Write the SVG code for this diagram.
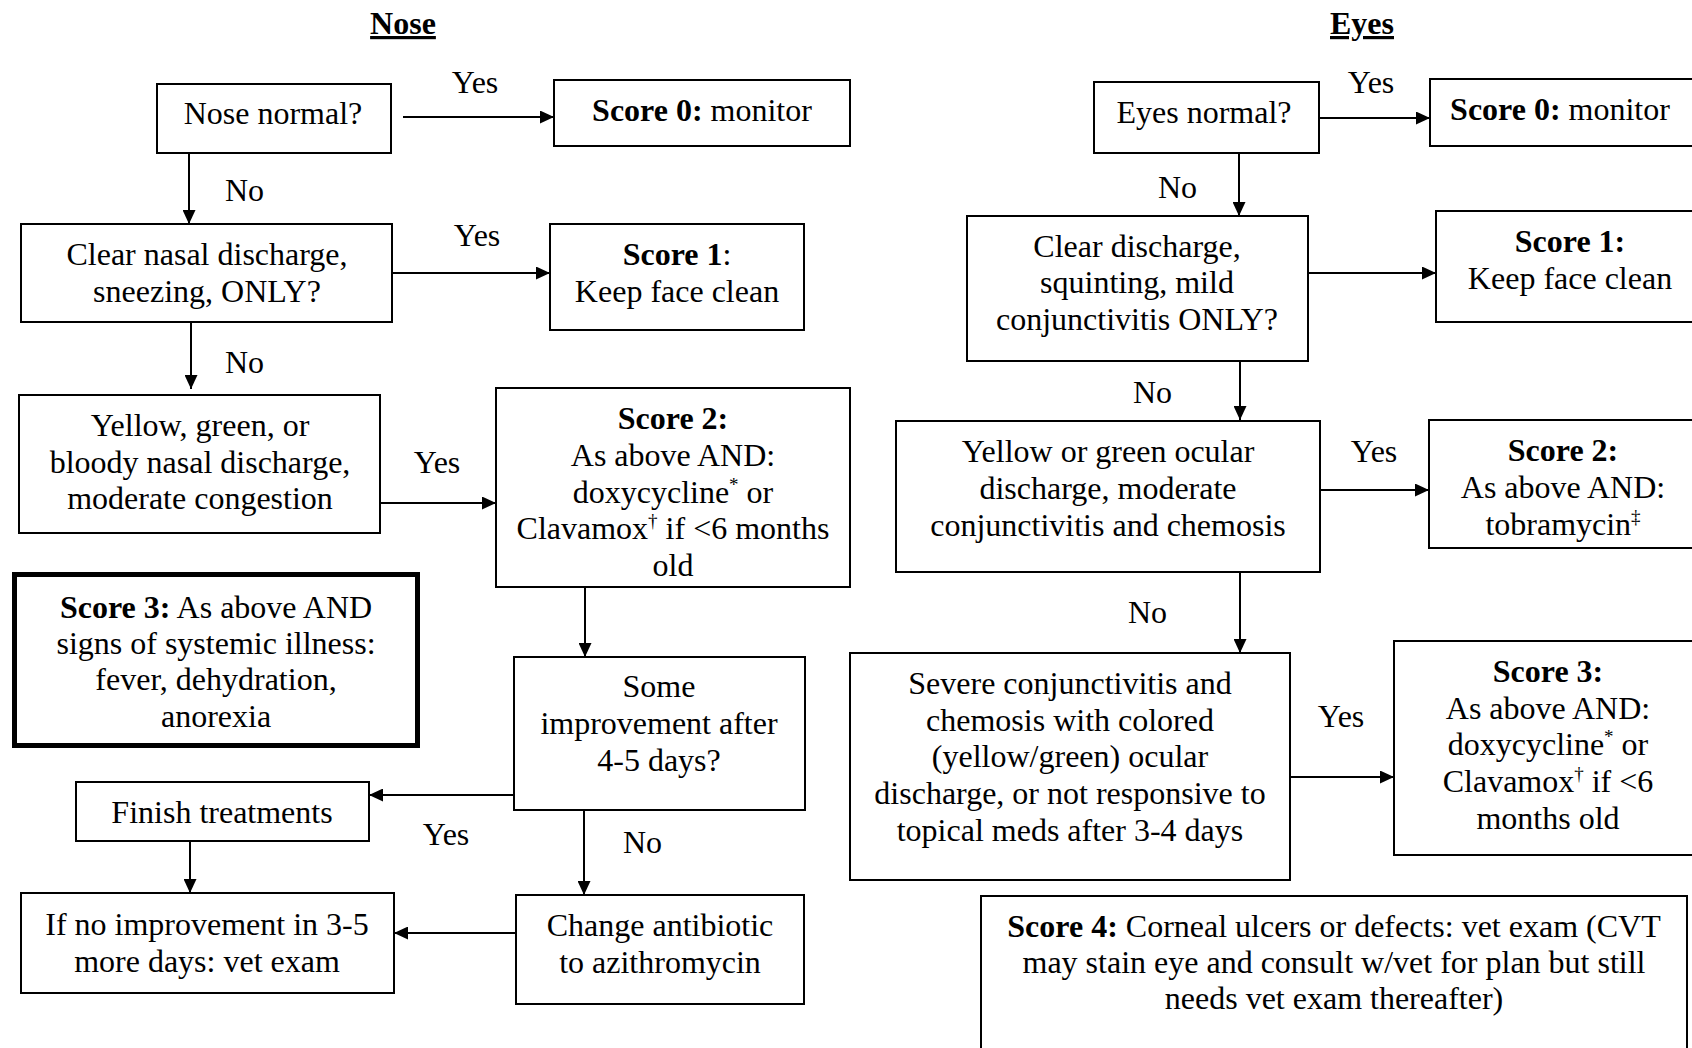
<svg xmlns="http://www.w3.org/2000/svg" width="1692" height="1048" viewBox="0 0 1692 1048">
<style>
.box{fill:#fff;stroke:#000;stroke-width:2}
.thick{fill:#fff;stroke:#000;stroke-width:5}
.t{font-family:"Liberation Serif","Times New Roman",serif;font-size:32px;fill:#000;text-anchor:middle}
.l{font-family:"Liberation Serif","Times New Roman",serif;font-size:32px;fill:#000}
.b{font-weight:bold}
.title{font-family:"Liberation Serif","Times New Roman",serif;font-size:32px;font-weight:bold;text-anchor:middle;text-decoration:underline}
.c{fill:none;stroke:#000;stroke-width:2;marker-end:url(#ah)}
.sup{font-size:19px}
</style>
<defs>
<marker id="ah" markerUnits="userSpaceOnUse" markerWidth="15" markerHeight="13" refX="14" refY="6.5" orient="auto">
<path d="M0,0 L14,6.5 L0,13 z" fill="#000"/>
</marker>
</defs>
<rect width="1692" height="1048" fill="#fff"/>
<text class="title" x="403" y="34">Nose</text>
<text class="title" x="1362" y="34">Eyes</text>

<g id="connectors">
<path class="c" d="M403,117 H554"/>
<path class="c" d="M189,148 V224"/>
<path class="c" d="M392,273 H550"/>
<path class="c" d="M191,322 V389"/>
<path class="c" d="M380,503 H496"/>
<path class="c" d="M585,587 V657"/>
<path class="c" d="M514,795 H369"/>
<path class="c" d="M190,841 V893"/>
<path class="c" d="M584,810 V895"/>
<path class="c" d="M516,933 H394"/>
<path class="c" d="M1319,118 H1430"/>
<path class="c" d="M1239,153 V216"/>
<path class="c" d="M1308,273 H1436"/>
<path class="c" d="M1240,361 V420"/>
<path class="c" d="M1320,490 H1429"/>
<path class="c" d="M1240,572 V653"/>
<path class="c" d="M1290,777 H1394"/>
<text class="t" x="475" y="93">Yes</text>
<text class="l" x="225" y="201">No</text>
<text class="t" x="477" y="246">Yes</text>
<text class="l" x="225" y="373">No</text>
<text class="t" x="437" y="473">Yes</text>
<text class="t" x="446" y="845">Yes</text>
<text class="l" x="623" y="853">No</text>
<text class="t" x="1371" y="93">Yes</text>
<text class="l" x="1158" y="198">No</text>
<text class="l" x="1133" y="403">No</text>
<text class="t" x="1374" y="462">Yes</text>
<text class="l" x="1128" y="623">No</text>
<text class="t" x="1341" y="727">Yes</text>
</g>

<g id="nose-normal">
<rect class="box" x="157" y="84" width="234" height="69"/>
<text class="t" x="273" y="124">Nose normal?</text>
</g>
<g id="nose-score0">
<rect class="box" x="554" y="80" width="296" height="66"/>
<text class="t" x="702" y="121"><tspan class="b">Score 0:</tspan> monitor</text>
</g>
<g id="nose-clear">
<rect class="box" x="21" y="224" width="371" height="98"/>
<text class="t" x="207" y="265">Clear nasal discharge,</text>
<text class="t" x="207" y="302">sneezing, ONLY?</text>
</g>
<g id="nose-score1">
<rect class="box" x="550" y="224" width="254" height="106"/>
<text class="t" x="677" y="265"><tspan class="b">Score 1</tspan>:</text>
<text class="t" x="677" y="302">Keep face clean</text>
</g>
<g id="nose-yellow">
<rect class="box" x="19" y="395" width="361" height="138"/>
<text class="t" x="200" y="436">Yellow, green, or</text>
<text class="t" x="200" y="473">bloody nasal discharge,</text>
<text class="t" x="200" y="509">moderate congestion</text>
</g>
<g id="nose-score2">
<rect class="box" x="496" y="388" width="354" height="199"/>
<text class="t b" x="673" y="429">Score 2:</text>
<text class="t" x="673" y="466">As above AND:</text>
<text class="t" x="673" y="503">doxycycline<tspan class="sup" dy="-12">*</tspan><tspan dy="12"> or</tspan></text>
<text class="t" x="673" y="539">Clavamox<tspan class="sup" dy="-12">†</tspan><tspan dy="12"> if &lt;6 months</tspan></text>
<text class="t" x="673" y="576">old</text>
</g>
<g id="nose-score3">
<rect class="thick" x="14.5" y="574.5" width="403" height="171"/>
<text class="t" x="216" y="618"><tspan class="b">Score 3:</tspan> As above AND</text>
<text class="t" x="216" y="654">signs of systemic illness:</text>
<text class="t" x="216" y="690">fever, dehydration,</text>
<text class="t" x="216" y="727">anorexia</text>
</g>
<g id="nose-improve">
<rect class="box" x="514" y="657" width="291" height="153"/>
<text class="t" x="659" y="697">Some</text>
<text class="t" x="659" y="734">improvement after</text>
<text class="t" x="659" y="771">4-5 days?</text>
</g>
<g id="nose-finish">
<rect class="box" x="76" y="782" width="293" height="59"/>
<text class="t" x="222" y="823">Finish treatments</text>
</g>
<g id="nose-vet">
<rect class="box" x="21" y="893" width="373" height="100"/>
<text class="t" x="207" y="935">If no improvement in 3-5</text>
<text class="t" x="207" y="972">more days: vet exam</text>
</g>
<g id="nose-change">
<rect class="box" x="516" y="895" width="288" height="109"/>
<text class="t" x="660" y="936">Change antibiotic</text>
<text class="t" x="660" y="973">to azithromycin</text>
</g>

<g id="eyes-normal">
<rect class="box" x="1094" y="82" width="225" height="71"/>
<text class="t" x="1204" y="123">Eyes normal?</text>
</g>
<g id="eyes-score0">
<rect class="box" x="1430" y="79" width="280" height="67"/>
<text class="t" x="1560" y="120"><tspan class="b">Score 0:</tspan> monitor</text>
</g>
<g id="eyes-clear">
<rect class="box" x="967" y="216" width="341" height="145"/>
<text class="t" x="1137" y="257">Clear discharge,</text>
<text class="t" x="1137" y="293">squinting, mild</text>
<text class="t" x="1137" y="330">conjunctivitis ONLY?</text>
</g>
<g id="eyes-score1">
<rect class="box" x="1436" y="211" width="280" height="111"/>
<text class="t b" x="1570" y="252">Score 1:</text>
<text class="t" x="1570" y="289">Keep face clean</text>
</g>
<g id="eyes-yellow">
<rect class="box" x="896" y="421" width="424" height="151"/>
<text class="t" x="1108" y="462">Yellow or green ocular</text>
<text class="t" x="1108" y="499">discharge, moderate</text>
<text class="t" x="1108" y="536">conjunctivitis and chemosis</text>
</g>
<g id="eyes-score2">
<rect class="box" x="1429" y="420" width="290" height="128"/>
<text class="t b" x="1563" y="461">Score 2:</text>
<text class="t" x="1563" y="498">As above AND:</text>
<text class="t" x="1563" y="535">tobramycin<tspan class="sup" dy="-12">‡</tspan></text>
</g>
<g id="eyes-severe">
<rect class="box" x="850" y="653" width="440" height="227"/>
<text class="t" x="1070" y="694">Severe conjunctivitis and</text>
<text class="t" x="1070" y="731">chemosis with colored</text>
<text class="t" x="1070" y="767">(yellow/green) ocular</text>
<text class="t" x="1070" y="804">discharge, or not responsive to</text>
<text class="t" x="1070" y="841">topical meds after 3-4 days</text>
</g>
<g id="eyes-score3">
<rect class="box" x="1394" y="641" width="320" height="214"/>
<text class="t b" x="1548" y="682">Score 3:</text>
<text class="t" x="1548" y="719">As above AND:</text>
<text class="t" x="1548" y="755">doxycycline<tspan class="sup" dy="-12">*</tspan><tspan dy="12"> or</tspan></text>
<text class="t" x="1548" y="792">Clavamox<tspan class="sup" dy="-12">†</tspan><tspan dy="12"> if &lt;6</tspan></text>
<text class="t" x="1548" y="829">months old</text>
</g>
<g id="eyes-score4">
<rect class="box" x="981" y="896" width="706" height="170"/>
<text class="t" x="1334" y="937"><tspan class="b">Score 4:</tspan> Corneal ulcers or defects: vet exam (CVT</text>
<text class="t" x="1334" y="973">may stain eye and consult w/vet for plan but still</text>
<text class="t" x="1334" y="1009">needs vet exam thereafter)</text>
</g>
</svg>
